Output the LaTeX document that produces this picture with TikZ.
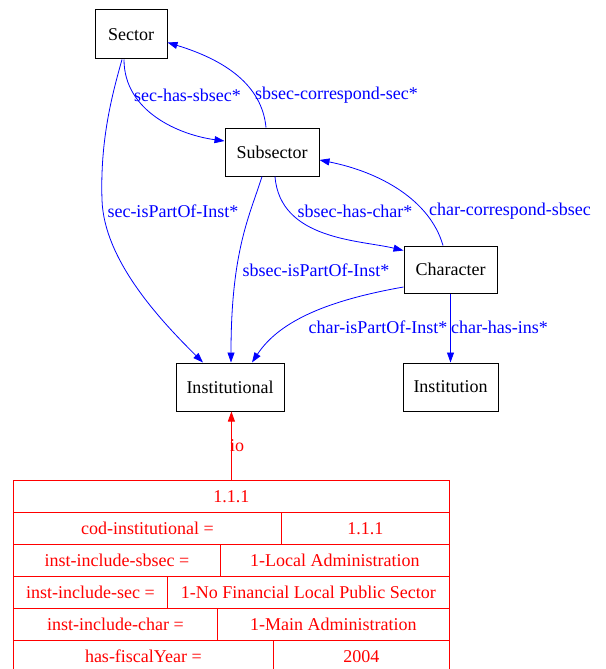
\documentclass[tikz,border=0pt]{standalone}
\usepackage{fontspec}
\setmainfont{Liberation Serif}
\usetikzlibrary{arrows.meta}
\tikzset{
	>={Triangle[length=10pt,width=7pt]},
	classbox/.style={
		rectangle,
		draw=black, line width=1pt,
		inner sep=0pt,
		font=\fontsize{18}{20}\selectfont},
	link/.style={draw=blue, line width=0.8pt, ->},
	linklabel/.style={text=blue, inner sep=0pt, font=\fontsize{18}{20}\selectfont},
	iolink/.style={draw=red, line width=0.8pt, ->},
	cell/.style={
		rectangle,
		draw=red, line width=0.8pt,
		text=red,
		anchor=north west,
		minimum height=32pt,
		inner sep=0pt,
		font=\fontsize{18}{20}\selectfont},
}
\begin{document}
\begin{tikzpicture}[x=1pt, y=-1pt]
	\useasboundingbox (0,0) rectangle (605,669);
	% classes
	\node[classbox, minimum width=72pt, minimum height=49pt] (Sector) at (131,34.5) {Sector};
	\node[classbox, minimum width=94pt, minimum height=48pt] (Subsector) at (272,152) {Subsector};
	\node[classbox, minimum width=93pt, minimum height=47pt] (Character) at (450.5,269.5) {Character};
	\node[classbox, minimum width=108pt, minimum height=48pt] (Institutional) at (230,387) {Institutional};
	\node[classbox, minimum width=95pt, minimum height=48pt] (Institution) at (450.5,387) {Institution};
	% properties
	\draw[link] ([xshift=-7pt]Sector.south) .. controls (124,112) and (180,135) .. ([yshift=11pt]Subsector.west);
	\draw[link] ([xshift=-6pt]Subsector.north) .. controls (262,85) and (225,60) .. ([yshift=-8pt]Sector.east);
	\draw[link] ([xshift=-9pt]Sector.south) .. controls (112,95) and (100,140) .. (102,200)
		.. controls (104,260) and (160,320) .. ([xshift=-27pt]Institutional.north);
	\draw[link] ([xshift=-10pt]Subsector.south) .. controls (250,215) and (231,250) .. ([xshift=1pt]Institutional.north);
	\draw[link] ([xshift=3pt]Subsector.south) .. controls (280,240) and (360,240) .. ([yshift=19pt]Character.west);
	\draw[link] ([xshift=-7.5pt]Character.north) .. controls (430,200) and (380,172) .. ([yshift=-8pt]Subsector.east);
	\draw[link] ([yshift=-17.5pt]Character.west) .. controls (330,300) and (280,320) .. ([xshift=22pt]Institutional.north);
	\draw[link] (Character.south) -- (Institution.north);
	% property labels
	\node[linklabel] (lSecHasSbsec) at (187.5,95) {sec-has-sbsec*};
	\node[linklabel] (lSbsecCorrSec) at (336.5,95) {sbsec-correspond-sec*};
	\node[linklabel] (lSecPartInst) at (173,211) {sec-isPartOf-Inst*};
	\node[linklabel] (lSbsecHasChar) at (355,211) {sbsec-has-char*};
	\node[linklabel] (lCharCorrSbsec) at (510,211) {char-correspond-sbsec};
	\node[linklabel] (lSbsecPartInst) at (316,270) {sbsec-isPartOf-Inst*};
	\node[linklabel] (lCharPartInst) at (378,327) {char-isPartOf-Inst*};
	\node[linklabel] (lCharHasIns) at (499.5,327) {char-has-ins*};
	% instance
	\node[cell, minimum width=436pt] (tTitle) at (13,480) {1.1.1};
	\node[cell, minimum width=268pt] (tCodKey) at (13,512) {cod-institutional =};
	\node[cell, minimum width=168pt] (tCodVal) at (281,512) {1.1.1};
	\node[cell, minimum width=207pt] (tSbsecKey) at (13,544) {inst-include-sbsec =};
	\node[cell, minimum width=229pt] (tSbsecVal) at (220,544) {1-Local Administration};
	\node[cell, minimum width=154pt] (tSecKey) at (13,576) {inst-include-sec =};
	\node[cell, minimum width=282pt] (tSecVal) at (167,576) {1-No Financial Local Public Sector};
	\node[cell, minimum width=204pt] (tCharKey) at (13,608) {inst-include-char =};
	\node[cell, minimum width=232pt] (tCharVal) at (217,608) {1-Main Administration};
	\node[cell, minimum width=260pt] (tYearKey) at (13,640) {has-fiscalYear =};
	\node[cell, minimum width=176pt] (tYearVal) at (273,640) {2004};
	\draw[iolink] (tTitle.north) -- (tTitle.north |- Institutional.south);
	\node[text=red, inner sep=0pt, font=\fontsize{18}{20}\selectfont] (lIo) at (237,446) {io};
\end{tikzpicture}
\end{document}
